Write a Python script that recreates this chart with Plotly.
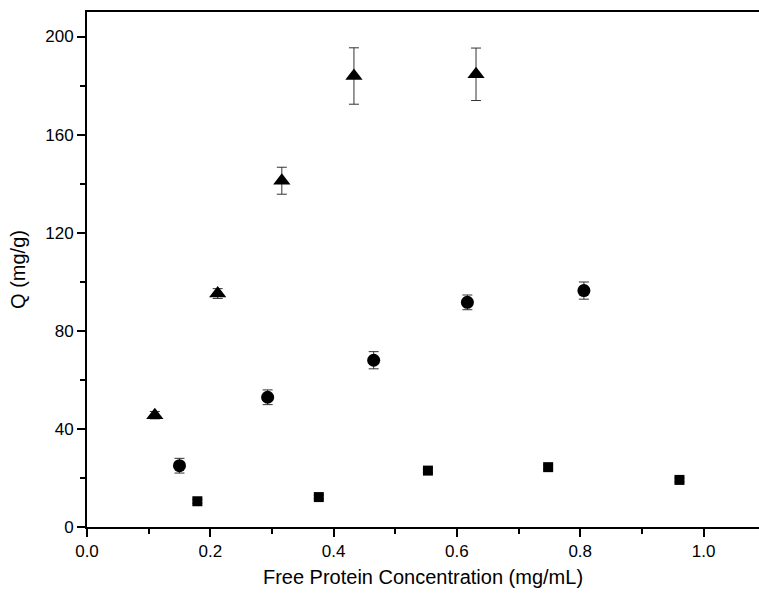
import plotly.graph_objects as go

# Data
tri_x = [0.110, 0.212, 0.316, 0.433, 0.631]
tri_y = [45.6, 95.2, 141.2, 183.9, 184.6]
tri_err = [1.5, 2.0, 5.5, 11.5, 10.7]

cir_x = [0.150, 0.293, 0.465, 0.617, 0.806]
cir_y = [25.0, 52.9, 68.0, 91.6, 96.4]
cir_err = [3.0, 3.0, 3.5, 3.0, 3.5]

sq_x = [0.179, 0.376, 0.553, 0.748, 0.961]
sq_y = [10.5, 12.2, 23.0, 24.4, 19.2]
sq_err = [0.8, 0.8, 0.8, 0.8, 0.8]

x_title = "Free Protein Concentration (mg/mL)"
y_title = "Q (mg/g)"

fig = go.Figure()

def add(xs, ys, es, sym, size):
    fig.add_trace(go.Scatter(
        x=xs, y=ys, mode="markers",
        marker=dict(symbol=sym, size=size, color="black"),
        error_y=dict(type="data", array=es, visible=True, color="#333333",
                     thickness=1, width=5),
        showlegend=False))

add(tri_x, tri_y, tri_err, "triangle-up", 15)
add(cir_x, cir_y, cir_err, "circle", 13)
add(sq_x, sq_y, sq_err, "square", 10)

font = dict(family="Liberation Sans, Arial, sans-serif", color="black")

fig.update_layout(
    width=759, height=596,
    margin=dict(l=87, r=0, t=12, b=69, autoexpand=False),
    paper_bgcolor="white", plot_bgcolor="white",
    font=dict(**font, size=17),
    xaxis=dict(
        range=[0, 1.09], tickvals=[0, 0.2, 0.4, 0.6, 0.8, 1.0],
        ticktext=["0.0", "0.2", "0.4", "0.6", "0.8", "1.0"],
        showgrid=False, zeroline=False,
        showline=True, linecolor="black", linewidth=2, mirror=True,
        ticks="outside", ticklen=8, tickwidth=2, tickcolor="black",
        minor=dict(tickvals=[0.1, 0.3, 0.5, 0.7, 0.9], ticks="outside",
                   ticklen=5, tickwidth=2, tickcolor="black"),
        tickfont=dict(size=17),
        title=dict(text=x_title, font=dict(size=20), standoff=10),
    ),
    yaxis=dict(
        range=[0, 210], tickvals=[0, 40, 80, 120, 160, 200],
        showgrid=False, zeroline=False,
        showline=True, linecolor="black", linewidth=2, mirror=False,
        ticks="outside", ticklen=8, tickwidth=2, tickcolor="black",
        minor=dict(tickvals=[20, 60, 100, 140, 180], ticks="outside",
                   ticklen=5, tickwidth=2, tickcolor="black"),
        tickfont=dict(size=17),
        title=dict(text=y_title, font=dict(size=20), standoff=14),
    ),
)

fig.write_html(
    "out.html",
    config={"displayModeBar": False},
    post_script="document.body.style.margin='0';document.body.style.overflow='hidden';",
)
